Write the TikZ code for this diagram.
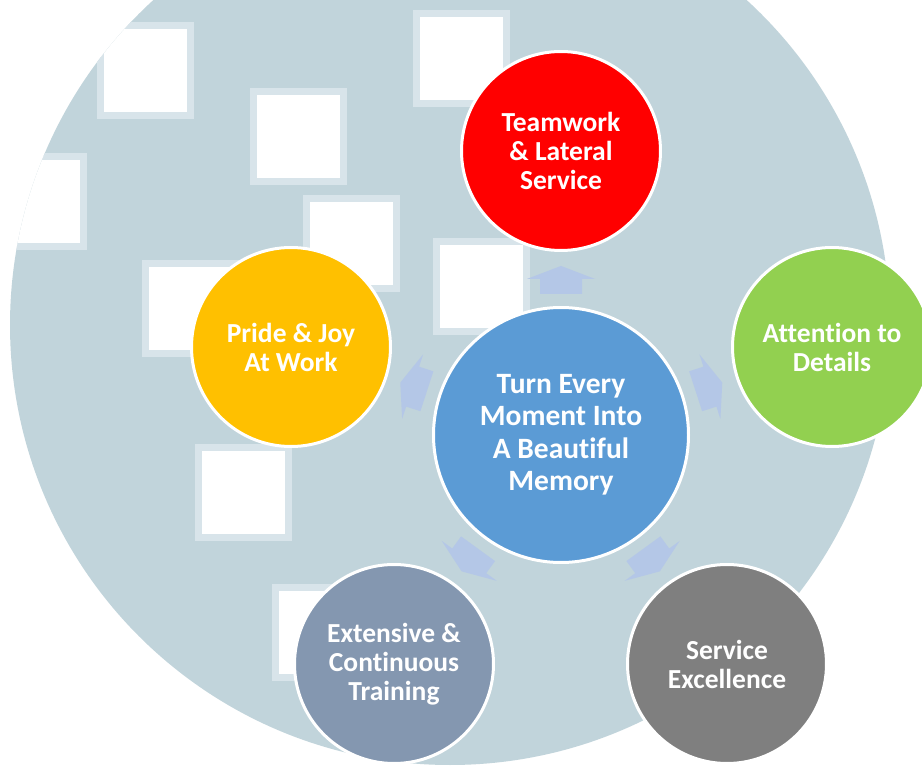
\documentclass[tikz,border=0pt]{standalone}
\usepackage{fontspec}
\setmainfont{Carlito}[Ligatures=NoCommon]
\usetikzlibrary{calc}
\definecolor{bgc}{RGB}{193,212,219}
\definecolor{sqedge}{RGB}{216,228,234}
\definecolor{arrc}{RGB}{180,199,231}
\definecolor{cred}{RGB}{255,0,0}
\definecolor{cgreen}{RGB}{146,208,80}
\definecolor{cyellow}{RGB}{255,192,0}
\definecolor{cblue}{RGB}{91,155,213}
\definecolor{cslate}{RGB}{132,151,176}
\definecolor{cgray}{RGB}{127,127,127}
\begin{document}
\begin{tikzpicture}[x=1pt,y=-1pt,
  sat/.style={circle, draw=white, line width=3pt, minimum size=199pt, inner sep=0pt,
    text=white, align=center, font=\bfseries\fontsize{27.5}{29}\selectfont},
  hub/.style={sat, minimum size=255pt, font=\bfseries\fontsize{29.5}{32.5}\selectfont},
  sq/.style={fill=white, draw=sqedge, line width=7pt},
  arr/.style={fill=arrc}]
\clip (0,0) rectangle (922,767);
\fill[white] (0,0) rectangle (922,767);
\fill[bgc] (450,325) circle (440pt);
% white squares, clipped to the background disc
\begin{scope}
  \clip (450,325) circle (440pt);
  \foreach \x/\y in {97/22, 250/88, 303/195, -10/153, 142/260, 413/10, 433/238, 195/444, 272/584}
    \draw[sq] (\x+3.5,\y+3.5) rectangle (\x+93.5,\y+93.5);
\end{scope}
% circles
\node[hub, fill=cblue] (hub) at (561,435) {Turn Every\\Moment Into\\A Beautiful\\Memory};
\node[sat, fill=cred] (team) at (561,151) {Teamwork\\\& Lateral\\Service};
\node[sat, fill=cgreen] (attn) at (832,347) {Attention to\\Details};
\node[sat, fill=cyellow] (pride) at (291,347) {Pride \& Joy\\At Work};
\node[sat, fill=cslate] (train) at (394,664) {Extensive \&\\Continuous\\Training};
\node[sat, fill=cgray] (serv) at (727,664) {Service\\Excellence};
% arrows
\foreach \t/\a in {team/90, attn/18, pride/162, train/234, serv/306}
  \fill[arr, shift={($(hub)!0.546!(\t)$)}, rotate=\a]
    (-14,-21) -- (1,-21) -- (1,-34) -- (14,0) -- (1,34) -- (1,21) -- (-14,21) -- cycle;
\end{tikzpicture}
\end{document}
